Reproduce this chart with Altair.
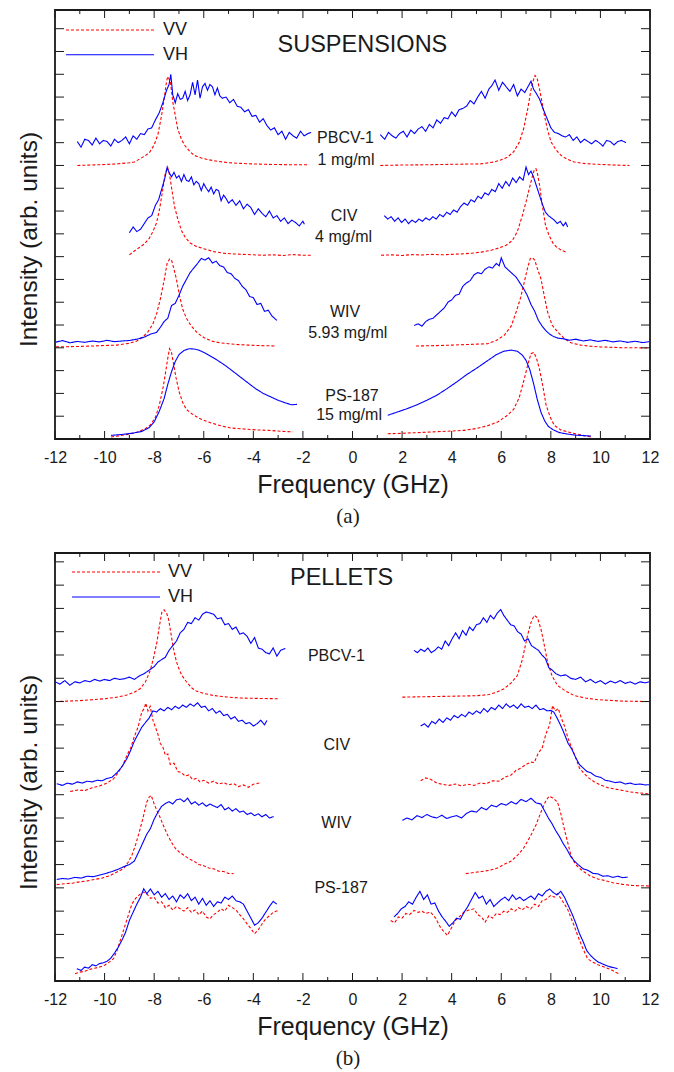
import altair as alt
import pandas as pd

FONT = "Liberation Sans, Arial, Helvetica, sans-serif"
SERIF = "Liberation Serif, Times New Roman, serif"
INK = "#1a1a1a"
RED = "#ff0000"
BLUE = "#0000ff"

# ------------------------------------------------------------------
# Panel (a) SUSPENSIONS  -- frequency (GHz) / intensity (arb. units, offset)
# ------------------------------------------------------------------
a_pbcv_l_vv_x = [-11.1, -10.5, -10.0, -9.5, -9.0, -8.8, -8.4, -8.2, -8.0, -7.85, -7.7, -7.6, -7.5, -7.45, -7.35, -7.25, -7.15, -7.05, -6.9, -6.78, -6.55, -6.38, -6.1, -5.8, -5.44, -5.0, -4.5, -4.09, -3.5, -3.0, -2.5, -2.0, -1.8]
a_pbcv_l_vv_y = [12.0, 12.02, 12.04, 12.07, 12.12, 12.15, 12.4, 12.55, 12.9, 13.35, 14.2, 14.9, 15.7, 15.9, 15.7, 14.8, 14.2, 13.6, 13.15, 12.9, 12.6, 12.44, 12.33, 12.25, 12.18, 12.12, 12.09, 12.07, 12.05, 12.04, 12.03, 12.03, 12.03]
a_pbcv_l_vh_x = [-11.1, -10.95, -10.8, -10.65, -10.5, -10.35, -10.2, -10.05, -9.9, -9.75, -9.6, -9.45, -9.3, -9.15, -9.0, -8.85, -8.7, -8.55, -8.4, -8.25, -8.1, -7.95, -7.8, -7.65, -7.5, -7.4, -7.33, -7.25, -7.15, -7.05, -6.95, -6.85, -6.75, -6.65, -6.55, -6.45, -6.35, -6.25, -6.15, -6.05, -5.95, -5.85, -5.75, -5.65, -5.55, -5.45, -5.35, -5.25, -5.1, -4.95, -4.8, -4.65, -4.5, -4.35, -4.2, -4.05, -3.9, -3.75, -3.6, -3.45, -3.3, -3.15, -3.0, -2.85, -2.7, -2.55, -2.4, -2.25, -2.1, -1.95, -1.8, -1.67]
a_pbcv_l_vh_y = [13.05, 12.8, 13.15, 13.1, 12.9, 13.2, 12.95, 13.1, 13.05, 12.85, 13.15, 13.0, 13.1, 13.25, 12.95, 13.3, 13.15, 13.4, 13.35, 13.6, 13.65, 14.0, 14.3, 14.75, 15.3, 15.55, 16.0, 15.1, 14.75, 15.15, 14.9, 14.95, 15.25, 14.85, 15.1, 15.65, 15.1, 15.75, 14.95, 15.45, 15.6, 15.3, 15.55, 15.45, 15.1, 15.4, 15.05, 14.95, 15.0, 14.75, 14.9, 14.6, 14.55, 14.35, 14.45, 14.15, 14.2, 13.9, 14.05, 13.75, 13.55, 13.65, 13.35, 13.5, 13.15, 13.45, 13.3, 13.2, 13.5, 13.3, 13.4, 13.45]
a_pbcv_r_vv_x = [1.12, 2.0, 3.0, 4.0, 5.18, 5.7, 6.0, 6.26, 6.5, 6.73, 6.9, 7.07, 7.18, 7.27, 7.36, 7.45, 7.54, 7.64, 7.74, 7.87, 8.01, 8.2, 8.41, 8.65, 8.95, 9.4, 9.89, 10.5, 11.17]
a_pbcv_r_vv_y = [12.0, 12.02, 12.03, 12.05, 12.07, 12.15, 12.25, 12.37, 12.6, 13.03, 13.6, 14.49, 15.2, 15.66, 15.95, 15.8, 15.37, 14.8, 14.2, 13.55, 13.03, 12.7, 12.44, 12.28, 12.15, 12.08, 12.05, 12.02, 12.0]
a_pbcv_r_vh_x = [1.12, 1.3, 1.45, 1.6, 1.75, 1.9, 2.05, 2.2, 2.35, 2.5, 2.65, 2.8, 2.95, 3.1, 3.25, 3.4, 3.55, 3.7, 3.85, 4.0, 4.15, 4.3, 4.45, 4.6, 4.75, 4.9, 5.05, 5.2, 5.35, 5.5, 5.62, 5.75, 5.9, 6.05, 6.2, 6.35, 6.5, 6.65, 6.8, 6.95, 7.1, 7.2, 7.3, 7.42, 7.55, 7.7, 7.85, 8.0, 8.15, 8.3, 8.45, 8.6, 8.75, 8.9, 9.05, 9.2, 9.35, 9.5, 9.65, 9.8, 9.95, 10.1, 10.25, 10.4, 10.55, 10.7, 10.85, 11.03]
a_pbcv_r_vh_y = [13.35, 13.15, 13.45, 13.3, 13.2, 13.4, 13.5, 13.25, 13.55, 13.4, 13.6, 13.7, 13.5, 13.8, 13.65, 14.0, 13.85, 14.1, 14.05, 14.35, 14.15, 14.45, 14.5, 14.6, 14.85, 14.7, 15.0, 15.25, 14.95, 15.35, 15.5, 15.75, 15.3, 15.65, 15.45, 15.25, 15.55, 15.05, 15.35, 15.2, 15.5, 15.7, 15.35, 15.15, 14.9, 14.45, 14.05, 13.65, 13.45, 13.4, 13.3, 13.25, 13.35, 13.1, 13.25, 13.0, 13.15, 13.05, 12.95, 13.1, 13.0, 12.85, 13.1, 13.05, 12.9, 13.05, 13.1, 13.0]

a_civ_l_vv_x = [-9.0, -8.8, -8.6, -8.4, -8.2, -8.05, -7.9, -7.78, -7.66, -7.56, -7.46, -7.38, -7.28, -7.18, -7.05, -6.9, -6.75, -6.55, -6.3, -6.0, -5.6, -5.2, -4.8, -4.4, -4.0, -3.6, -3.2, -2.8, -2.4, -2.0, -1.67]
a_civ_l_vv_y = [8.08, 8.25, 8.4, 8.55, 8.8, 9.1, 9.5, 10.1, 10.9, 11.6, 11.93, 11.6, 10.9, 10.2, 9.66, 9.15, 8.85, 8.6, 8.45, 8.35, 8.22, 8.15, 8.12, 8.1, 8.08, 8.06, 8.08, 8.05, 8.09, 8.06, 8.06]
a_civ_l_vh_x = [-9.0, -8.85, -8.7, -8.55, -8.4, -8.25, -8.1, -7.95, -7.82, -7.7, -7.58, -7.48, -7.4, -7.3, -7.2, -7.1, -7.0, -6.9, -6.8, -6.7, -6.6, -6.5, -6.4, -6.3, -6.2, -6.1, -6.0, -5.9, -5.8, -5.7, -5.6, -5.5, -5.4, -5.3, -5.2, -5.1, -5.0, -4.85, -4.7, -4.55, -4.4, -4.25, -4.1, -3.95, -3.8, -3.65, -3.5, -3.35, -3.2, -3.05, -2.9, -2.75, -2.6, -2.45, -2.3, -2.15, -2.0, -1.94]
a_civ_l_vh_y = [9.05, 9.3, 9.1, 9.2, 9.45, 9.7, 9.8, 10.25, 10.5, 10.95, 11.4, 11.9, 11.7, 11.5, 11.7, 11.45, 11.55, 11.3, 11.6, 11.35, 11.3, 11.5, 11.15, 11.3, 11.2, 10.9, 11.2, 11.0, 10.85, 11.05, 10.75, 10.95, 10.9, 10.45, 10.7, 10.55, 10.35, 10.5, 10.25, 10.45, 10.1, 10.3, 10.15, 9.85, 10.1, 9.9, 9.75, 10.0, 9.7, 9.8, 9.55, 9.7, 9.45, 9.6, 9.5, 9.35, 9.55, 9.42]
a_civ_r_vv_x = [1.15, 1.6, 2.0, 2.4, 2.8, 3.2, 3.6, 4.0, 4.4, 4.8, 5.2, 5.6, 5.9, 6.2, 6.45, 6.65, 6.85, 7.0, 7.13, 7.25, 7.33, 7.4, 7.47, 7.55, 7.65, 7.78, 7.92, 8.08, 8.25, 8.45, 8.61]
a_civ_r_vv_y = [8.06, 8.08, 8.05, 8.09, 8.07, 8.1, 8.08, 8.1, 8.12, 8.15, 8.2, 8.28, 8.38, 8.5, 8.71, 9.1, 9.8, 10.4, 10.98, 11.5, 11.8, 11.86, 11.6, 11.1, 10.3, 9.4, 8.95, 8.6, 8.4, 8.27, 8.2]
a_civ_r_vh_x = [1.28, 1.42, 1.56, 1.7, 1.84, 1.98, 2.12, 2.26, 2.4, 2.54, 2.68, 2.82, 2.96, 3.1, 3.24, 3.38, 3.52, 3.66, 3.8, 3.94, 4.08, 4.22, 4.36, 4.5, 4.64, 4.78, 4.92, 5.06, 5.2, 5.34, 5.48, 5.62, 5.76, 5.9, 6.04, 6.18, 6.32, 6.46, 6.6, 6.74, 6.88, 7.0, 7.1, 7.2, 7.3, 7.42, 7.54, 7.66, 7.78, 7.9, 8.02, 8.14, 8.26, 8.38, 8.5, 8.6, 8.68]
a_civ_r_vh_y = [9.8, 9.65, 9.75, 9.55, 9.7, 9.5, 9.65, 9.45, 9.6, 9.5, 9.65, 9.55, 9.7, 9.6, 9.75, 9.65, 9.85, 9.75, 9.95, 9.85, 10.05, 9.95, 10.2, 10.35, 10.25, 10.5, 10.4, 10.65, 10.55, 10.8, 10.7, 10.95, 10.85, 11.2, 11.0, 11.3, 11.1, 11.45, 11.25, 11.5, 11.35, 11.93, 11.6, 11.75, 11.5, 11.1, 10.7, 10.3, 9.95, 9.8, 9.7, 9.6, 9.45, 9.55, 9.35, 9.5, 9.3]

a_wiv_l_vv_x = [-11.96, -11.5, -11.0, -10.5, -10.0, -9.5, -9.0, -8.7, -8.45, -8.25, -8.05, -7.9, -7.75, -7.6, -7.48, -7.38, -7.3, -7.2, -7.1, -6.98, -6.85, -6.7, -6.5, -6.25, -6.0, -5.7, -5.35, -5.0, -4.6, -4.2, -3.8, -3.4, -3.1]
a_wiv_l_vv_y = [4.04, 4.05, 4.06, 4.08, 4.1, 4.12, 4.2, 4.3, 4.48, 4.7, 5.05, 5.5, 6.15, 6.95, 7.7, 7.9, 7.85, 7.45, 7.0, 6.3, 5.7, 5.3, 4.95, 4.65, 4.45, 4.3, 4.22, 4.18, 4.14, 4.12, 4.1, 4.09, 4.08]
a_wiv_l_vh_x = [-11.96, -11.7, -11.4, -11.1, -10.8, -10.5, -10.2, -9.9, -9.6, -9.3, -9.0, -8.7, -8.4, -8.15, -7.9, -7.75, -7.6, -7.45, -7.3, -7.15, -7.0, -6.85, -6.7, -6.55, -6.4, -6.25, -6.1, -5.95, -5.8, -5.65, -5.5, -5.35, -5.2, -5.05, -4.9, -4.75, -4.6, -4.45, -4.3, -4.15, -4.0, -3.85, -3.7, -3.55, -3.4, -3.25, -3.05]
a_wiv_l_vh_y = [4.25, 4.32, 4.22, 4.28, 4.24, 4.3, 4.26, 4.33, 4.27, 4.3, 4.32, 4.38, 4.47, 4.6, 4.68, 4.9, 5.15, 5.3, 5.85, 5.95, 6.3, 6.7, 7.0, 7.3, 7.5, 7.7, 7.92, 7.85, 7.95, 7.72, 7.8, 7.6, 7.55, 7.3, 7.25, 7.05, 6.95, 6.7, 6.55, 6.25, 6.2, 5.9, 5.95, 5.6, 5.65, 5.4, 5.2]
a_wiv_r_vv_x = [2.56, 3.0, 3.5, 4.0, 4.5, 5.0, 5.45, 5.8, 6.12, 6.4, 6.6, 6.78, 6.93, 7.05, 7.17, 7.26, 7.35, 7.45, 7.6, 7.75, 7.87, 8.05, 8.28, 8.55, 8.81, 9.2, 9.6, 10.0, 10.5, 11.0, 11.5, 11.98]
a_wiv_r_vv_y = [4.08, 4.09, 4.1, 4.12, 4.14, 4.16, 4.18, 4.32, 4.55, 4.95, 5.57, 6.2, 6.89, 7.45, 7.91, 7.95, 7.85, 7.5, 7.03, 6.2, 5.57, 5.0, 4.69, 4.4, 4.22, 4.12, 4.07, 4.04, 4.02, 4.0, 4.0, 3.99]
a_wiv_r_vh_x = [2.49, 2.65, 2.8, 2.95, 3.1, 3.25, 3.4, 3.55, 3.7, 3.85, 4.0, 4.15, 4.3, 4.45, 4.6, 4.75, 4.9, 5.05, 5.2, 5.35, 5.5, 5.65, 5.8, 5.92, 6.0, 6.15, 6.3, 6.45, 6.6, 6.75, 6.9, 7.05, 7.2, 7.35, 7.5, 7.65, 7.8, 7.95, 8.1, 8.3, 8.5, 8.75, 9.0, 9.3, 9.6, 9.9, 10.2, 10.5, 10.8, 11.1, 11.4, 11.7, 11.98]
a_wiv_r_vh_y = [4.98, 5.05, 4.95, 5.15, 5.25, 5.3, 5.45, 5.6, 5.75, 6.0, 6.1, 6.3, 6.35, 6.7, 6.85, 6.95, 7.2, 7.3, 7.25, 7.45, 7.55, 7.5, 7.7, 7.6, 7.95, 7.55, 7.4, 7.25, 7.1, 6.85, 6.6, 6.3, 5.9, 5.6, 5.2, 4.95, 4.75, 4.6, 4.5, 4.42, 4.4, 4.33, 4.38, 4.3, 4.35, 4.28, 4.33, 4.26, 4.3, 4.24, 4.29, 4.23, 4.27]

a_ps_l_vv_x = [-9.74, -9.4, -9.0, -8.7, -8.4, -8.15, -7.95, -7.8, -7.65, -7.55, -7.45, -7.38, -7.3, -7.22, -7.12, -7.0, -6.85, -6.7, -6.5, -6.25, -6.0, -5.7, -5.3, -4.9, -4.4, -3.9, -3.4, -2.9, -2.41]
a_ps_l_vv_y = [0.09, 0.14, 0.22, 0.3, 0.42, 0.62, 0.95, 1.45, 2.2, 2.85, 3.55, 3.96, 3.8, 3.3, 2.7, 2.1, 1.6, 1.3, 1.12, 0.95, 0.82, 0.7, 0.58, 0.48, 0.44, 0.4, 0.38, 0.34, 0.31]
a_ps_l_vh_x = [-9.74, -9.3, -8.9, -8.5, -8.2, -8.0, -7.8, -7.6, -7.45, -7.3, -7.15, -7.0, -6.8, -6.6, -6.4, -6.2, -6.0, -5.7, -5.4, -5.1, -4.8, -4.5, -4.2, -3.9, -3.6, -3.3, -3.0, -2.7, -2.45, -2.24]
a_ps_l_vh_y = [0.16, 0.2, 0.25, 0.33, 0.5, 0.75, 1.2, 1.77, 2.4, 2.95, 3.4, 3.7, 3.88, 3.96, 3.95, 3.9, 3.8, 3.62, 3.42, 3.2, 2.95, 2.7, 2.45, 2.2, 2.0, 1.85, 1.7, 1.58, 1.5, 1.52]
a_ps_r_vv_x = [1.42, 2.0, 2.6, 3.2, 3.8, 4.5, 5.0, 5.45, 5.86, 6.2, 6.5, 6.72, 6.93, 7.08, 7.2, 7.31, 7.42, 7.54, 7.68, 7.81, 7.98, 8.14, 8.4, 8.8, 9.2, 9.62]
a_ps_r_vv_y = [0.23, 0.25, 0.28, 0.31, 0.34, 0.38, 0.46, 0.58, 0.75, 1.0, 1.3, 1.8, 2.64, 3.3, 3.74, 3.8, 3.55, 3.08, 2.3, 1.48, 0.95, 0.6, 0.4, 0.28, 0.18, 0.09]
a_ps_r_vh_x = [1.42, 1.8, 2.2, 2.6, 3.0, 3.4, 3.8, 4.2, 4.6, 5.0, 5.4, 5.8, 6.1, 6.4, 6.65, 6.85, 7.0, 7.15, 7.3, 7.45, 7.6, 7.75, 7.9, 8.1, 8.35, 8.65, 9.0, 9.3, 9.62]
a_ps_r_vh_y = [1.04, 1.18, 1.33, 1.5, 1.7, 1.92, 2.2, 2.5, 2.82, 3.1, 3.4, 3.7, 3.85, 3.9, 3.85, 3.68, 3.45, 3.05, 2.45, 1.75, 1.18, 0.8, 0.55, 0.4, 0.28, 0.22, 0.17, 0.15, 0.13]

# ------------------------------------------------------------------
# Panel (b) PELLETS
# ------------------------------------------------------------------
b_pbcv_l_vv_x = [-12.0, -11.5, -11.0, -10.5, -10.0, -9.5, -9.1, -8.8, -8.57, -8.35, -8.16, -8.02, -7.89, -7.78, -7.69, -7.6, -7.5, -7.42, -7.32, -7.22, -7.1, -6.98, -6.88, -6.7, -6.5, -6.3, -6.0, -5.6, -5.1, -4.5, -4.0, -3.5, -2.98]
b_pbcv_l_vv_y = [12.0, 12.02, 12.04, 12.08, 12.12, 12.19, 12.28, 12.4, 12.55, 12.85, 13.33, 13.9, 14.55, 15.3, 15.84, 15.94, 15.8, 15.55, 14.9, 14.26, 13.7, 13.35, 13.12, 12.85, 12.6, 12.45, 12.35, 12.26, 12.2, 12.15, 12.14, 12.13, 12.12]
b_pbcv_l_vh_x = [-12.0, -11.8, -11.6, -11.4, -11.2, -11.0, -10.8, -10.6, -10.4, -10.2, -10.0, -9.8, -9.6, -9.4, -9.2, -9.0, -8.8, -8.6, -8.4, -8.2, -8.0, -7.85, -7.7, -7.55, -7.4, -7.25, -7.1, -6.95, -6.8, -6.65, -6.5, -6.35, -6.2, -6.05, -5.9, -5.75, -5.6, -5.45, -5.3, -5.15, -5.0, -4.85, -4.7, -4.55, -4.4, -4.25, -4.1, -3.95, -3.8, -3.65, -3.5, -3.35, -3.2, -3.05, -2.9, -2.71]
b_pbcv_l_vh_y = [12.85, 12.75, 12.9, 12.7, 12.85, 12.8, 12.9, 12.85, 12.95, 12.88, 12.95, 12.9, 13.0, 12.95, 12.98, 13.05, 12.95, 13.1, 13.2, 13.35, 13.5, 13.7, 13.8, 13.9, 14.2, 14.4, 14.6, 14.95, 15.1, 15.4, 15.35, 15.6, 15.5, 15.75, 15.85, 15.8, 15.75, 15.55, 15.6, 15.3, 15.35, 15.1, 15.2, 14.9, 14.95, 14.8, 14.5, 14.75, 14.3, 14.25, 14.1, 14.05, 14.3, 13.95, 14.2, 14.28]
b_pbcv_r_vv_x = [2.01, 2.5, 3.0, 3.5, 4.0, 4.5, 5.0, 5.5, 5.8, 6.11, 6.4, 6.65, 6.85, 7.06, 7.2, 7.33, 7.46, 7.6, 7.74, 7.87, 8.05, 8.27, 8.6, 8.94, 9.4, 9.9, 10.4, 10.9, 11.4, 11.97]
b_pbcv_r_vv_y = [12.19, 12.2, 12.21, 12.22, 12.23, 12.24, 12.25, 12.3, 12.4, 12.55, 12.8, 13.12, 13.8, 14.84, 15.4, 15.7, 15.6, 15.12, 14.4, 13.69, 13.1, 12.69, 12.45, 12.26, 12.15, 12.08, 12.05, 12.02, 12.01, 12.0]
b_pbcv_r_vh_x = [2.48, 2.62, 2.76, 2.9, 3.04, 3.18, 3.32, 3.46, 3.6, 3.74, 3.88, 4.02, 4.16, 4.3, 4.44, 4.58, 4.72, 4.86, 5.0, 5.14, 5.28, 5.42, 5.56, 5.7, 5.84, 5.98, 6.1, 6.24, 6.38, 6.52, 6.66, 6.8, 6.94, 7.08, 7.22, 7.36, 7.5, 7.64, 7.78, 7.92, 8.06, 8.2, 8.4, 8.6, 8.8, 9.0, 9.2, 9.4, 9.6, 9.8, 10.0, 10.2, 10.4, 10.6, 10.8, 11.0, 11.2, 11.4, 11.6, 11.8, 11.97]
b_pbcv_r_vh_y = [14.2, 14.1, 14.25, 14.15, 14.3, 14.1, 14.2, 14.35, 14.25, 14.6, 14.4, 14.7, 14.95, 14.7, 15.05, 14.85, 15.2, 15.05, 15.3, 15.35, 15.6, 15.4, 15.7, 15.55, 15.8, 15.95, 15.7, 15.5, 15.3, 15.25, 15.0, 14.9, 14.6, 14.7, 14.4, 14.3, 14.2, 14.0, 13.85, 13.45, 13.35, 13.2, 13.1, 13.15, 13.0, 12.95, 13.05, 12.85, 12.95, 12.8, 12.9, 12.75, 12.88, 12.8, 12.9, 12.78, 12.85, 12.75, 12.85, 12.8, 12.85]

b_civ_l_vv_x = [-11.39, -11.1, -10.8, -10.5, -10.2, -9.9, -9.64, -9.45, -9.25, -9.1, -8.95, -8.8, -8.65, -8.5, -8.4, -8.34, -8.25, -8.16, -8.05, -7.95, -7.85, -7.75, -7.65, -7.55, -7.45, -7.35, -7.2, -7.05, -6.9, -6.75, -6.6, -6.45, -6.3, -6.15, -6.0, -5.8, -5.6, -5.4, -5.2, -5.0, -4.8, -4.6, -4.4, -4.2, -4.0, -3.85, -3.72]
b_civ_l_vv_y = [8.14, 8.2, 8.18, 8.3, 8.38, 8.5, 8.68, 8.95, 9.3, 9.69, 10.0, 10.5, 10.9, 11.55, 11.7, 11.93, 11.6, 11.8, 11.2, 10.9, 10.6, 10.2, 10.05, 9.7, 9.75, 9.3, 9.35, 9.0, 8.95, 8.8, 8.85, 8.65, 8.7, 8.55, 8.62, 8.5, 8.58, 8.45, 8.52, 8.42, 8.48, 8.35, 8.42, 8.32, 8.45, 8.48, 8.51]
b_civ_l_vh_x = [-11.93, -11.7, -11.5, -11.3, -11.1, -10.9, -10.7, -10.5, -10.3, -10.1, -9.9, -9.7, -9.5, -9.3, -9.1, -8.95, -8.8, -8.65, -8.5, -8.35, -8.2, -8.05, -7.9, -7.75, -7.6, -7.45, -7.3, -7.15, -7.0, -6.85, -6.7, -6.55, -6.4, -6.25, -6.1, -5.95, -5.8, -5.65, -5.5, -5.35, -5.2, -5.05, -4.9, -4.75, -4.6, -4.45, -4.3, -4.15, -4.0, -3.85, -3.7, -3.55, -3.45]
b_civ_l_vh_y = [8.47, 8.4, 8.5, 8.45, 8.55, 8.5, 8.58, 8.55, 8.62, 8.6, 8.7, 8.75, 8.95, 9.2, 9.55, 9.9, 10.3, 10.6, 10.9, 11.1, 11.3, 11.6, 11.55, 11.7, 11.6, 11.75, 11.65, 11.8, 11.7, 11.85, 11.75, 11.9, 11.8, 11.95, 11.75, 11.8, 11.6, 11.7, 11.5, 11.6, 11.4, 11.45, 11.25, 11.35, 11.15, 11.2, 11.05, 11.1, 10.95, 11.05, 11.2, 11.0, 11.19]
b_civ_r_vv_x = [2.75, 2.95, 3.15, 3.4, 3.65, 3.9, 4.15, 4.4, 4.65, 4.9, 5.15, 5.4, 5.65, 5.9, 6.15, 6.4, 6.6, 6.8, 7.0, 7.19, 7.33, 7.5, 7.65, 7.8, 7.95, 8.07, 8.18, 8.3, 8.42, 8.55, 8.7, 8.85, 9.0, 9.15, 9.35, 9.55, 9.76, 10.0, 10.3, 10.56, 10.9, 11.2, 11.5, 11.75, 11.97]
b_civ_r_vv_y = [8.6, 8.72, 8.66, 8.5, 8.44, 8.4, 8.46, 8.38, 8.45, 8.4, 8.5, 8.47, 8.6, 8.58, 8.75, 8.85, 9.05, 9.15, 9.3, 9.4, 9.38, 9.8, 10.0, 10.6, 11.0, 11.83, 11.6, 11.7, 11.3, 10.95, 10.4, 10.0, 9.6, 9.15, 8.9, 8.7, 8.55, 8.42, 8.3, 8.25, 8.18, 8.12, 8.08, 8.06, 8.04]
b_civ_r_vh_x = [2.75, 2.9, 3.05, 3.2, 3.35, 3.5, 3.65, 3.8, 3.95, 4.1, 4.25, 4.4, 4.55, 4.7, 4.85, 5.0, 5.15, 5.3, 5.45, 5.6, 5.75, 5.9, 6.05, 6.2, 6.35, 6.5, 6.65, 6.8, 6.95, 7.1, 7.25, 7.4, 7.55, 7.7, 7.85, 8.0, 8.12, 8.25, 8.4, 8.55, 8.7, 8.85, 9.0, 9.15, 9.3, 9.45, 9.6, 9.8, 10.0, 10.2, 10.4, 10.6, 10.8, 11.0, 11.2, 11.4, 11.6, 11.8, 11.97]
b_civ_r_vh_y = [10.95, 11.05, 10.9, 11.15, 11.05, 11.25, 11.1, 11.3, 11.2, 11.4, 11.3, 11.45, 11.35, 11.55, 11.45, 11.6, 11.5, 11.7, 11.55, 11.75, 11.65, 11.85, 11.7, 11.9, 11.75, 11.85, 11.7, 11.9, 11.75, 11.8, 11.7, 11.85, 11.65, 11.7, 11.6, 11.62, 11.55, 11.3, 10.97, 10.6, 10.2, 9.95, 9.6, 9.3, 9.15, 9.0, 8.95, 8.8, 8.75, 8.62, 8.58, 8.52, 8.55, 8.46, 8.5, 8.44, 8.46, 8.42, 8.43]

b_wiv_l_vv_x = [-11.93, -11.6, -11.3, -11.0, -10.7, -10.4, -10.1, -9.8, -9.5, -9.24, -9.05, -8.9, -8.75, -8.6, -8.45, -8.3, -8.2, -8.12, -8.0, -7.88, -7.75, -7.6, -7.45, -7.3, -7.15, -7.0, -6.8, -6.6, -6.4, -6.2, -6.0, -5.8, -5.6, -5.4, -5.2, -5.0, -4.8]
b_wiv_l_vv_y = [4.14, 4.18, 4.2, 4.26, 4.3, 4.36, 4.42, 4.52, 4.68, 4.82, 5.1, 5.4, 5.85, 6.4, 7.0, 7.68, 7.9, 7.97, 7.6, 7.3, 7.0, 6.6, 6.25, 5.95, 5.7, 5.55, 5.4, 5.25, 5.15, 5.0, 4.95, 4.85, 4.82, 4.72, 4.7, 4.62, 4.61]
b_wiv_l_vh_x = [-11.93, -11.7, -11.45, -11.2, -10.95, -10.7, -10.45, -10.2, -9.95, -9.7, -9.45, -9.2, -9.0, -8.8, -8.6, -8.45, -8.3, -8.15, -8.0, -7.85, -7.7, -7.55, -7.4, -7.25, -7.1, -6.95, -6.8, -6.65, -6.5, -6.35, -6.2, -6.05, -5.9, -5.75, -5.6, -5.45, -5.3, -5.15, -5.0, -4.85, -4.7, -4.55, -4.4, -4.25, -4.1, -3.95, -3.8, -3.65, -3.5, -3.35, -3.18]
b_wiv_l_vh_y = [4.36, 4.4, 4.38, 4.45, 4.42, 4.5, 4.48, 4.55, 4.62, 4.7, 4.8, 4.92, 5.0, 5.15, 5.6, 5.95, 6.3, 6.55, 6.95, 7.25, 7.5, 7.62, 7.7, 7.6, 7.78, 7.82, 7.7, 7.85, 7.6, 7.7, 7.55, 7.65, 7.5, 7.6, 7.52, 7.45, 7.58, 7.35, 7.45, 7.3, 7.4, 7.25, 7.3, 7.15, 7.22, 7.1, 7.18, 7.05, 7.15, 7.0, 7.06]
b_wiv_r_vv_x = [4.57, 4.9, 5.2, 5.5, 5.85, 6.1, 6.4, 6.65, 6.9, 7.19, 7.4, 7.6, 7.78, 7.93, 8.1, 8.27, 8.4, 8.54, 8.68, 8.81, 9.0, 9.2, 9.35, 9.6, 9.9, 10.15, 10.5, 10.9, 11.3, 11.7, 11.97]
b_wiv_r_vv_y = [4.61, 4.66, 4.7, 4.75, 4.85, 5.0, 5.15, 5.39, 5.7, 6.25, 6.7, 7.25, 7.7, 7.94, 7.85, 7.68, 7.2, 6.54, 5.95, 5.39, 5.0, 4.8, 4.68, 4.5, 4.38, 4.32, 4.22, 4.15, 4.1, 4.09, 4.08]
b_wiv_r_vh_x = [2.01, 2.2, 2.4, 2.6, 2.8, 3.0, 3.2, 3.4, 3.6, 3.8, 4.0, 4.2, 4.4, 4.6, 4.8, 5.0, 5.2, 5.4, 5.6, 5.8, 6.0, 6.2, 6.4, 6.6, 6.8, 7.0, 7.2, 7.4, 7.6, 7.75, 7.9, 8.05, 8.2, 8.35, 8.5, 8.65, 8.8, 8.95, 9.1, 9.3, 9.5, 9.7, 9.9, 10.1, 10.3, 10.5, 10.7, 10.9, 11.1]
b_wiv_r_vh_y = [6.9, 7.0, 6.92, 7.1, 7.02, 7.15, 7.05, 7.0, 7.12, 6.98, 7.05, 7.1, 7.0, 7.2, 7.3, 7.25, 7.45, 7.35, 7.55, 7.48, 7.62, 7.55, 7.7, 7.6, 7.8, 7.7, 7.85, 7.65, 7.6, 7.3, 7.0, 6.75, 6.45, 6.2, 5.9, 5.65, 5.35, 5.15, 5.0, 4.82, 4.75, 4.62, 4.6, 4.5, 4.52, 4.45, 4.5, 4.44, 4.46]

b_ps_l_vv_x = [-11.19, -11.0, -10.8, -10.6, -10.4, -10.2, -10.0, -9.8, -9.64, -9.5, -9.35, -9.2, -9.05, -8.9, -8.75, -8.6, -8.45, -8.3, -8.15, -8.0, -7.85, -7.7, -7.55, -7.4, -7.25, -7.1, -6.95, -6.8, -6.65, -6.5, -6.35, -6.2, -6.05, -5.9, -5.75, -5.6, -5.45, -5.3, -5.15, -5.0, -4.85, -4.7, -4.55, -4.4, -4.25, -4.1, -3.95, -3.8, -3.65, -3.5, -3.35, -3.2, -2.98]
b_ps_l_vv_y = [0.31, 0.38, 0.42, 0.5, 0.55, 0.6, 0.68, 0.82, 0.96, 1.3, 1.8, 2.3, 2.8, 3.3, 3.55, 3.7, 3.82, 3.75, 3.55, 3.6, 3.35, 3.4, 3.15, 3.25, 3.05, 3.2, 3.1, 3.0, 3.15, 2.95, 3.05, 2.85, 3.0, 2.75, 2.67, 2.85, 2.95, 3.1, 3.0, 3.25, 3.15, 3.05, 2.85, 2.67, 2.45, 2.25, 2.03, 2.2, 2.45, 2.67, 2.8, 2.95, 3.03]
b_ps_l_vh_x = [-11.12, -10.95, -10.8, -10.65, -10.5, -10.35, -10.2, -10.05, -9.9, -9.75, -9.6, -9.45, -9.3, -9.15, -9.0, -8.85, -8.7, -8.55, -8.42, -8.3, -8.15, -8.0, -7.85, -7.7, -7.55, -7.4, -7.25, -7.1, -6.95, -6.8, -6.65, -6.5, -6.35, -6.2, -6.05, -5.9, -5.75, -5.6, -5.45, -5.3, -5.15, -5.0, -4.85, -4.7, -4.55, -4.4, -4.25, -4.1, -3.95, -3.8, -3.65, -3.5, -3.35, -3.2, -3.05]
b_ps_l_vh_y = [0.53, 0.45, 0.6, 0.55, 0.7, 0.65, 0.75, 0.78, 0.85, 0.98, 1.2, 1.45, 1.75, 2.1, 2.6, 2.95, 3.3, 3.6, 3.96, 3.75, 3.95, 3.7, 3.85, 3.6, 3.75, 3.5, 3.65, 3.4, 3.7, 3.55, 3.75, 3.45, 3.6, 3.3, 3.55, 3.25, 3.45, 3.2, 3.4, 3.35, 3.6, 3.5, 3.65, 3.45, 3.4, 3.3, 3.0, 2.7, 2.4, 2.5, 2.7, 2.95, 3.2, 3.42, 3.3]
b_ps_r_vv_x = [1.54, 1.7, 1.85, 2.0, 2.15, 2.3, 2.48, 2.65, 2.8, 2.95, 3.15, 3.35, 3.55, 3.7, 3.83, 4.0, 4.15, 4.3, 4.5, 4.7, 4.9, 5.05, 5.2, 5.35, 5.5, 5.65, 5.8, 5.95, 6.1, 6.25, 6.4, 6.55, 6.7, 6.85, 7.0, 7.19, 7.35, 7.5, 7.65, 7.8, 8.0, 8.15, 8.27, 8.4, 8.55, 8.67, 8.8, 8.95, 9.08, 9.25, 9.48, 9.7, 9.9, 10.15, 10.4, 10.6, 10.76]
b_ps_r_vv_y = [2.6, 2.5, 2.75, 2.7, 2.9, 2.85, 3.03, 2.95, 3.0, 2.9, 2.96, 2.7, 2.3, 2.1, 1.96, 2.3, 2.6, 2.75, 2.96, 3.05, 3.1, 2.85, 2.75, 2.53, 2.8, 2.7, 2.9, 2.85, 3.0, 2.95, 3.1, 3.0, 3.15, 3.05, 3.2, 3.1, 3.3, 3.2, 3.45, 3.5, 3.68, 3.6, 3.75, 3.55, 3.3, 3.1, 2.75, 2.35, 1.96, 1.5, 0.96, 0.8, 0.7, 0.6, 0.5, 0.38, 0.31]
b_ps_r_vh_x = [1.67, 1.82, 1.97, 2.12, 2.27, 2.42, 2.57, 2.72, 2.87, 3.02, 3.17, 3.32, 3.47, 3.62, 3.77, 3.9, 4.05, 4.2, 4.35, 4.5, 4.65, 4.8, 4.95, 5.1, 5.25, 5.4, 5.55, 5.7, 5.85, 6.0, 6.15, 6.3, 6.45, 6.6, 6.75, 6.9, 7.05, 7.2, 7.35, 7.5, 7.65, 7.8, 7.95, 8.1, 8.25, 8.4, 8.55, 8.7, 8.85, 9.0, 9.15, 9.3, 9.45, 9.6, 9.75, 9.9, 10.05, 10.2, 10.35, 10.5, 10.69]
b_ps_r_vh_y = [2.75, 2.9, 3.1, 3.2, 3.4, 3.3, 3.6, 3.85, 3.5, 3.7, 3.3, 3.35, 3.0, 2.75, 2.55, 2.35, 2.5, 2.7, 2.65, 2.95, 3.2, 3.5, 3.8, 3.55, 3.65, 3.3, 3.5, 3.2, 3.35, 3.5, 3.6, 3.45, 3.7, 3.5, 3.6, 3.45, 3.55, 3.65, 3.5, 3.75, 3.65, 3.85, 3.95, 3.8, 3.7, 3.85, 3.6, 3.25, 2.9, 2.5, 2.05, 1.7, 1.3, 1.1, 0.95, 0.82, 0.75, 0.68, 0.62, 0.58, 0.53]

# tick values and text
x_ticks_major = [-12, -10, -8, -6, -4, -2, 0, 2, 4, 6, 8, 10, 12]
x_ticks_minor = [-11, -9, -7, -5, -3, -1, 1, 3, 5, 7, 9, 11]
y_ticks = list(range(1, 19))

a_label_text = ["PBCV-1", "1 mg/ml", "CIV", "4 mg/ml", "WIV", "5.93 mg/ml", "PS-187", "15 mg/ml"]
b_label_text = ["PBCV-1", "CIV", "WIV", "PS-187"]

# annotation anchor positions (data units)
a_label_pos = [(-0.28, 13.2), (-0.26, 12.26), (-0.34, 9.8), (-0.36, 8.86), (-0.30, 5.55), (-0.19, 4.65), (-0.02, 1.89), (-0.14, 1.07)]
b_label_pos = [(-0.65, 13.95), (-0.63, 10.15), (-0.65, 6.78), (-0.46, 3.99)]

W = 595


def curves_df(prefix):
    rows = []
    g = globals()
    for sample in ["pbcv", "civ", "wiv", "ps"]:
        for side in ["l", "r"]:
            for pol in ["vv", "vh"]:
                xs = g[f"{prefix}_{sample}_{side}_{pol}_x"]
                ys = g[f"{prefix}_{sample}_{side}_{pol}_y"]
                for x, y in zip(xs, ys):
                    rows.append({"seg": f"{sample}_{side}_{pol}", "pol": pol.upper(), "x": x, "y": y})
    return pd.DataFrame(rows)


def panel(prefix, H, ymax, texts, pos, heading, heading_pos, leg, caption):
    xs = alt.Scale(domain=[-12, 12], nice=False, zero=False)
    ys = alt.Scale(domain=[0, ymax], nice=False, zero=False)
    xaxis = alt.Axis(
        values=x_ticks_major,
        labelExpr="datum.value < 0 ? '-' + abs(datum.value) : '' + datum.value",
        ticks=False, tickSize=0, domain=False, grid=False,
        labelFont=FONT, labelFontSize=16, labelColor=INK, labelPadding=10.5,
        labelFlush=False, labelOverlap=False,
        title="Frequency (GHz)", titleFont=FONT, titleFontSize=25,
        titleFontWeight="normal", titleColor=INK, titlePadding=6.5)
    yaxis = alt.Axis(
        labels=False, ticks=False, tickSize=0, domain=False, grid=False,
        title="Intensity (arb. units)", titleFont=FONT, titleFontSize=24.5,
        titleFontWeight="normal", titleColor=INK, titlePadding=14, titleY=229)

    def X(field):
        return alt.X(field, scale=xs, axis=xaxis)

    def Y(field):
        return alt.Y(field, scale=ys, axis=yaxis)

    df = curves_df(prefix)
    lines = alt.Chart(df).mark_line(strokeWidth=1.1).encode(
        x=X("x:Q"),
        y=Y("y:Q"),
        color=alt.Color("pol:N", scale=alt.Scale(domain=["VV", "VH"], range=[RED, BLUE]), legend=None),
        strokeDash=alt.StrokeDash("pol:N", scale=alt.Scale(domain=["VV", "VH"], range=[[3, 2], [1, 0]]), legend=None),
        detail="seg:N",
    )

    def xt(vals, length, top):
        d = pd.DataFrame({"x": vals})
        enc = dict(x=X("x:Q"))
        if top:
            enc.update(y=alt.value(0), y2=alt.value(length))
        else:
            enc.update(y=alt.value(H), y2=alt.value(H - length))
        return alt.Chart(d).mark_rule(color=INK, strokeWidth=1).encode(**enc)

    def yt(right):
        d = pd.DataFrame({"y": y_ticks})
        enc = dict(y=Y("y:Q"))
        if right:
            enc.update(x=alt.value(W), x2=alt.value(W - 9))
        else:
            enc.update(x=alt.value(0), x2=alt.value(9))
        return alt.Chart(d).mark_rule(color=INK, strokeWidth=1).encode(**enc)

    lab_df = pd.DataFrame({"t": texts, "x": [p[0] for p in pos], "y": [p[1] for p in pos]})
    labels = alt.Chart(lab_df).mark_text(font=FONT, fontSize=16, color=INK, baseline="middle").encode(
        x=X("x:Q"), y=Y("y:Q"), text="t:N")

    head_df = pd.DataFrame({"t": [heading], "x": [heading_pos[0]], "y": [heading_pos[1]]})
    head = alt.Chart(head_df).mark_text(font=FONT, fontSize=23.5, color=INK, baseline="middle").encode(
        x=X("x:Q"), y=Y("y:Q"), text="t:N")

    (lx0, lx1, ly_vv, ly_vh, tx) = leg
    vv_rule = alt.Chart(pd.DataFrame({"t": ["VV"]})).mark_rule(color=RED, strokeDash=[3, 2], strokeWidth=1.1).encode(
        x=alt.value(lx0), x2=alt.value(lx1), y=alt.value(ly_vv))
    vh_rule = alt.Chart(pd.DataFrame({"t": ["VH"]})).mark_rule(color=BLUE, strokeWidth=1.1).encode(
        x=alt.value(lx0), x2=alt.value(lx1), y=alt.value(ly_vh))
    vv_text = alt.Chart(pd.DataFrame({"t": ["VV"]})).mark_text(font=FONT, fontSize=18, color=INK, align="left", baseline="middle").encode(
        x=alt.value(tx), y=alt.value(ly_vv), text="t:N")
    vh_text = alt.Chart(pd.DataFrame({"t": ["VH"]})).mark_text(font=FONT, fontSize=18, color=INK, align="left", baseline="middle").encode(
        x=alt.value(tx), y=alt.value(ly_vh), text="t:N")

    cap = alt.Chart(pd.DataFrame({"t": [caption]})).mark_text(font=SERIF, fontSize=21, color=INK, baseline="middle").encode(
        x=alt.value(293), y=alt.value(H + 78), text="t:N")

    return alt.layer(
        lines,
        xt(x_ticks_major, 8, False), xt(x_ticks_minor, 4, False),
        xt(x_ticks_major, 8, True), xt(x_ticks_minor, 4, True),
        yt(False), yt(True),
        labels, head, vv_rule, vh_rule, vv_text, vh_text, cap,
    ).properties(width=W, height=H)


top = panel("a", 429, 18.82, a_label_text, a_label_pos, "SUSPENSIONS", (0.40, 17.29),
            (11, 99, 20, 44.7, 108), "(a)")
bottom = panel("b", 428, 18.38, b_label_text, b_label_pos, "PELLETS", (-0.44, 17.29),
               (17, 105, 19, 44, 113), "(b)")

chart = alt.vconcat(top, bottom, spacing=114, bounds="flush").properties(
    padding={"left": 7, "top": 0, "right": 5, "bottom": 5}
).configure_view(stroke=INK, strokeWidth=1.8)

chart.save("out.html", embed_options={"renderer": "svg", "actions": False})
